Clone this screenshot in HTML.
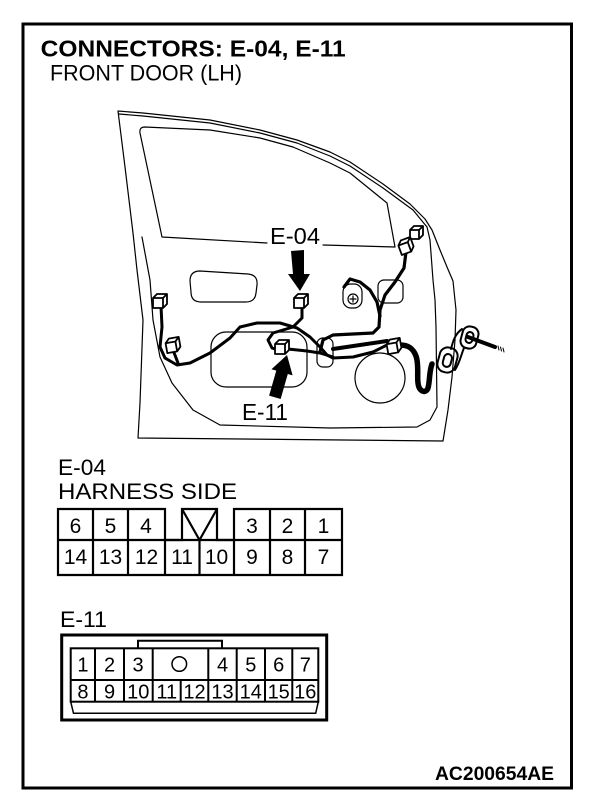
<!DOCTYPE html>
<html>
<head>
<meta charset="utf-8">
<style>
html,body{margin:0;padding:0;background:#fff;}
svg{display:block;}
text{font-family:"Liberation Sans",Arial,sans-serif;fill:#000;}
</style>
</head>
<body>
<svg width="608" height="800" viewBox="0 0 608 800" xmlns="http://www.w3.org/2000/svg">
<rect x="0" y="0" width="608" height="800" fill="#fff"/>
<!-- frame -->
<rect x="23" y="24" width="548.5" height="764" fill="none" stroke="#000" stroke-width="3"/>

<!-- titles -->
<text x="40.7" y="56.5" font-size="23.5" font-weight="bold" textLength="305" lengthAdjust="spacingAndGlyphs">CONNECTORS: E-04, E-11</text>
<text x="50" y="80.7" font-size="22" textLength="192" lengthAdjust="spacingAndGlyphs">FRONT DOOR (LH)</text>

<!-- DOOR DRAWING -->
<g fill="none" stroke="#000" stroke-width="1.2" stroke-linejoin="round" stroke-linecap="round">
  <!-- outer outline -->
  <polyline points="118,111 143,113 210,120 260,130 297,140 330,152 350,162 383,184 410,204 425,219 432,230 440,250 447,267 453,281 456,310 455,340 452,377 448,410 443,441 138,438 140,403 143,320 137,270 133,233 125,167 118,111"/>
  <!-- inner double line / inner panel -->
  <polyline points="119,114 143,116 210,123 260,133 297,143 330,156 350,166 383,188 413,210 427,227 430,240 433,280 435,300 436,327 437,407 430,420 417,427 330,428 220,425 193,410 172,383 160,357 153,320 150,280 142,237"/>
  <!-- window -->
  <path d="M267,243 L162,237 L140,133 Q139,127 145,127 L210,130 L260,138 L293,147 L330,163 L350,173 L387,203 L395,247 L323,245"/>
  <!-- armrest pocket -->
  <path d="M200,271 L248,274 Q258,275 257,285 L256,293 Q255,302 246,302 L201,302 Q191,302 191,292 L190,281 Q190,271 200,271 Z"/>
  <!-- large middle rounded rect -->
  <rect x="211" y="332" width="96" height="55" rx="15"/>
  <!-- small rounded rect -->
  <rect x="317" y="338" width="16" height="29" rx="6"/>
  <!-- upper right small rect -->
  <rect x="378" y="280" width="25" height="23" rx="6"/>
  <!-- speaker circle -->
  <circle cx="380" cy="378" r="25"/>
  <!-- bolt clip -->
  <rect x="343" y="284" width="19" height="24" rx="8"/>
  <circle cx="353" cy="299" r="5"/>
  <path d="M350,299 H356 M353,296 V302"/>
</g>

<!-- wires -->
<g fill="none" stroke="#000" stroke-linejoin="round" stroke-linecap="round">
  <polyline stroke-width="3" points="161,306 162,327 160,347 165,358 177,365 190,363 210,353 230,338 240,327 257,323 280,323 297,328 310,337 320,347 327,355 333,358 353,357 373,352 389,344"/>
  <polyline stroke-width="3" points="173,350 178,363"/>
  <polyline stroke-width="3" points="302,306 302,318 293,327 273,333 268,340 272,348 278,350"/>
  <polyline stroke-width="3" points="288,349 307,351 320,353 333,357"/>
  <polyline stroke-width="3.2" points="406,252 404,268 395,282 385,295 380,310 379,327 373,333 333,335 323,340 320,352"/>
  <polyline stroke-width="3.2" points="344,287 350,279 360,282 370,290 377,302 380,316"/>
  <polyline stroke-width="4" points="333,349 387,341"/>
  <path stroke-width="5.5" d="M400,345 C408,345 413,348 416,356 C419,364 417,376 418,383 C419,392 426,394 428,388 C430,381 429,372 432,364"/>
</g>

<!-- connectors (cubes) -->
<g fill="#fff" stroke="#000" stroke-width="1.8" stroke-linejoin="round">
  <g transform="translate(153,294)"><path d="M0,4 L4,0 H14 V10 L10,14 H0 Z M0,4 H10 L14,0 M10,4 V14"/></g>
  <g transform="translate(166,338) rotate(-10 7 7)"><path d="M0,4 L4,0 H14 V10 L10,14 H0 Z M0,4 H10 L14,0 M10,4 V14"/></g>
  <g transform="translate(294,294)"><path d="M0,4 L4,0 H14 V10 L10,14 H0 Z M0,4 H10 L14,0 M10,4 V14"/></g>
  <g transform="translate(275,340)"><path d="M0,4 L4,0 H14 V10 L10,14 H0 Z M0,4 H10 L14,0 M10,4 V14"/></g>
  <g transform="translate(410,226)"><path d="M0,4 L4,0 H13 V9 L9,13 H0 Z M0,4 H9 L13,0 M9,4 V13"/></g>
  <g transform="translate(399,239) rotate(-20 7 7)"><path d="M0,4 L4,0 H14 V10 L10,14 H0 Z M0,4 H10 L14,0 M10,4 V14"/></g>
  <g transform="translate(387,339) rotate(-10 7 7)"><path d="M0,4 L4,0 H14 V10 L10,14 H0 Z M0,4 H10 L14,0 M10,4 V14"/></g>
</g>

<!-- grommet -->
<g stroke="#000" fill="none" stroke-linecap="round">
  <line x1="468" y1="337" x2="495" y2="347" stroke-width="4"/>
  <line x1="498" y1="346" x2="499" y2="350" stroke-width="1"/>
  <line x1="500.5" y1="347" x2="501.5" y2="351" stroke-width="1"/>
  <line x1="503" y1="348" x2="504" y2="352" stroke-width="1"/>
</g>
<g fill="none" stroke="#000" stroke-width="2" stroke-linejoin="round" stroke-linecap="round">
  <rect x="438.5" y="347.5" width="18" height="25" rx="8" transform="rotate(15 447.5 360)"/>
  <rect x="443.5" y="354" width="8" height="13" rx="4" transform="rotate(15 447.5 360)"/>
  <rect x="461.5" y="326.5" width="16" height="22" rx="7" transform="rotate(15 469.5 337.5)"/>
  <rect x="466" y="332" width="7" height="11" rx="3.5" transform="rotate(15 469.5 337.5)"/>
  <path d="M451,349 C453,341 455,334 462,329"/>
  <path d="M464,348 C461,355 460,362 455,370"/>
</g>

<!-- arrows -->
<polygon points="291,251 304,250 304,274 310,274 300,291 288,274 293,274" fill="#000"/>
<polygon points="0,0 11,18 6,18 6,44 -6,44 -6,18 -11,18" fill="#000" transform="translate(287,355) rotate(16)"/>

<!-- door labels -->
<text x="270" y="244" font-size="23" textLength="50" lengthAdjust="spacingAndGlyphs">E-04</text>
<text x="242" y="420" font-size="23" textLength="46" lengthAdjust="spacingAndGlyphs">E-11</text>

<!-- E-04 connector -->
<text x="58" y="475" font-size="22" textLength="48" lengthAdjust="spacingAndGlyphs">E-04</text>
<text x="58" y="499" font-size="22" textLength="179" lengthAdjust="spacingAndGlyphs">HARNESS SIDE</text>
<g fill="none" stroke="#000" stroke-width="2.2">
  <path d="M58,509 H165 V540 H182 V509 H217 V540 H234 V509 H342 V575 H58 Z"/>
  <line x1="58" y1="540" x2="342" y2="540"/>
  <path d="M182,509 L199.5,540 L217,509"/>
  <line x1="93" y1="509" x2="93" y2="575"/>
  <line x1="128" y1="509" x2="128" y2="575"/>
  <line x1="165" y1="540" x2="165" y2="575"/>
  <line x1="199.5" y1="540" x2="199.5" y2="575"/>
  <line x1="234" y1="540" x2="234" y2="575"/>
  <line x1="270" y1="509" x2="270" y2="575"/>
  <line x1="305" y1="509" x2="305" y2="575"/>
</g>
<g font-size="21" text-anchor="middle">
  <text x="75.5" y="533">6</text>
  <text x="110.5" y="533">5</text>
  <text x="146" y="533">4</text>
  <text x="252" y="533">3</text>
  <text x="287.5" y="533">2</text>
  <text x="323.5" y="533">1</text>
  <text x="75.5" y="564">14</text>
  <text x="110.5" y="564">13</text>
  <text x="146.5" y="564">12</text>
  <text x="182" y="564">11</text>
  <text x="216.5" y="564">10</text>
  <text x="252" y="564">9</text>
  <text x="287.5" y="564">8</text>
  <text x="323.5" y="564">7</text>
</g>

<!-- E-11 connector -->
<text x="60" y="627" font-size="22" textLength="47" lengthAdjust="spacingAndGlyphs">E-11</text>
<g fill="none" stroke="#000">
  <rect x="61.7" y="635" width="265" height="85" stroke-width="3"/>
  <rect x="70.7" y="648.3" width="247.6" height="53.4" stroke-width="2"/>
  <path d="M138,648.3 V640.7 H222 V648.3" stroke-width="2"/>
  <path d="M70.7,701.7 L73.5,713.3 H315.7 L318.3,701.7" stroke-width="1.5"/>
  <line x1="70.7" y1="680" x2="318.3" y2="680" stroke-width="2"/>
  <g stroke-width="2">
    <line x1="95" y1="648.3" x2="95" y2="701.7"/>
    <line x1="124" y1="648.3" x2="124" y2="701.7"/>
    <line x1="152.7" y1="648.3" x2="152.7" y2="701.7"/>
    <line x1="180.7" y1="680" x2="180.7" y2="701.7"/>
    <line x1="208.3" y1="648.3" x2="208.3" y2="701.7"/>
    <line x1="236.7" y1="648.3" x2="236.7" y2="701.7"/>
    <line x1="265" y1="648.3" x2="265" y2="701.7"/>
    <line x1="292.3" y1="648.3" x2="292.3" y2="701.7"/>
  </g>
  <circle cx="179.3" cy="664" r="7.3" stroke-width="1.5"/>
</g>
<g font-size="20" text-anchor="middle">
  <text x="82.9" y="671.5">1</text>
  <text x="109.5" y="671.5">2</text>
  <text x="138" y="671.5">3</text>
  <text x="222.5" y="671.5">4</text>
  <text x="250.8" y="671.5">5</text>
  <text x="278.7" y="671.5">6</text>
  <text x="305.3" y="671.5">7</text>
  <text x="82.9" y="698.5">8</text>
  <text x="109.5" y="698.5">9</text>
  <text x="138.3" y="698.5">10</text>
  <text x="166.7" y="698.5">11</text>
  <text x="194.5" y="698.5">12</text>
  <text x="222.5" y="698.5">13</text>
  <text x="250.8" y="698.5">14</text>
  <text x="278.7" y="698.5">15</text>
  <text x="305.3" y="698.5">16</text>
</g>

<!-- footer code -->
<text x="435" y="780" font-size="19" font-weight="bold" textLength="119" lengthAdjust="spacingAndGlyphs">AC200654AE</text>
</svg>
</body>
</html>
